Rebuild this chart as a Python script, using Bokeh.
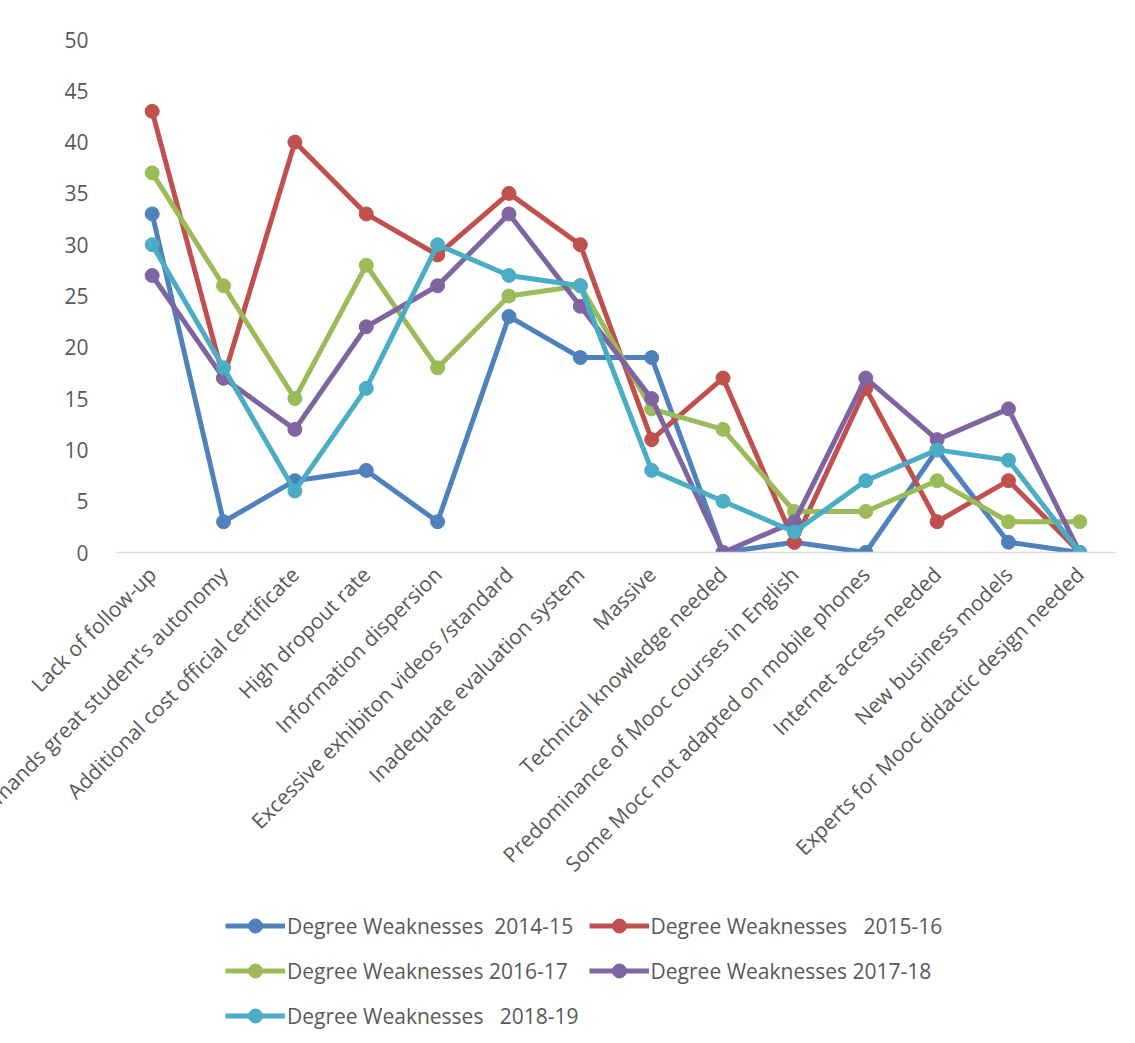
from bokeh.plotting import figure
from bokeh.models import FactorRange, Range1d, Legend, LegendItem, SingleIntervalTicker
from bokeh.layouts import column
from bokeh.embed import file_html
from bokeh.resources import INLINE
import math

categories = [
    "Lack of follow-up",
    "Demands great student's autonomy",
    "Additional cost official certificate",
    "High dropout rate",
    "Information dispersion",
    "Excessive exhibiton videos /standard",
    "Inadequate evaluation system",
    "Massive",
    "Technical knowledge needed",
    "Predominance of Mooc courses in English",
    "Some Mocc not adapted on mobile phones",
    "Internet access needed",
    "New business models",
    "Experts for Mooc didactic design needed",
]

s2014_15 = [33, 3, 7, 8, 3, 23, 19, 19, 0, 1, 0, 10, 1, 0]
s2015_16 = [43, 17, 40, 33, 29, 35, 30, 11, 17, 1, 16, 3, 7, 0]
s2016_17 = [37, 26, 15, 28, 18, 25, 26, 14, 12, 4, 4, 7, 3, 3]
s2017_18 = [27, 17, 12, 22, 26, 33, 24, 15, 0, 3, 17, 11, 14, 0]
s2018_19 = [30, 18, 6, 16, 30, 27, 26, 8, 5, 2, 7, 10, 9, 0]

series_names = [
    "Degree Weaknesses  2014-15",
    "Degree Weaknesses   2015-16",
    "Degree Weaknesses 2016-17",
    "Degree Weaknesses 2017-18",
    "Degree Weaknesses   2018-19",
]
series_values = [s2014_15, s2015_16, s2016_17, s2017_18, s2018_19]
colors = ["#4F81BD", "#C0504D", "#9BBB59", "#8064A2", "#4BACC6"]

FONT = "Open Sans"
TXT = "#595959"
W = 1127

p = figure(
    width=W, height=905,
    x_range=FactorRange(*categories, range_padding=0),
    y_range=Range1d(0, 50),
    output_backend="svg", toolbar_location=None,
    min_border_left=116, min_border_right=12,
    min_border_top=39, min_border_bottom=353,
)
p.x_range.range_padding = 0
p.outline_line_color = None
p.xgrid.grid_line_color = None
p.ygrid.grid_line_color = None

p.yaxis.ticker = SingleIntervalTicker(interval=5)
p.yaxis.axis_line_color = None
p.yaxis.major_tick_line_color = None
p.yaxis.minor_tick_line_color = None
p.yaxis.major_label_standoff = 22
p.yaxis.major_label_text_font = FONT
p.yaxis.major_label_text_font_size = "21px"
p.yaxis.major_label_text_color = TXT

p.xaxis.axis_line_color = "#D9D9D9"
p.xaxis.axis_line_width = 1.5
p.xaxis.major_tick_line_color = None
p.xaxis.minor_tick_line_color = None
p.xaxis.major_label_orientation = math.pi / 4
p.xaxis.major_label_standoff = 12
p.xaxis.major_label_text_font = FONT
p.xaxis.major_label_text_font_size = "21px"
p.xaxis.major_label_text_color = TXT

for name, vals, col in zip(series_names, series_values, colors):
    p.line(categories, vals, line_color=col, line_width=5)
    p.scatter(categories, vals, size=14, fill_color=col, line_color=col)

# legend in its own strip below the chart (frames are aligned with the chart)
lf = figure(
    width=W, height=130, x_range=Range1d(0, 1), y_range=Range1d(0, 1),
    output_backend="svg", toolbar_location=None,
    min_border=0, min_border_left=0, min_border_right=0,
    min_border_top=0, min_border_bottom=0,
)
lf.axis.visible = False
lf.grid.visible = False
lf.outline_line_color = None

nan = float("nan")
items = []
for name, col in zip(series_names, colors):
    lr = lf.line([nan, nan], [nan, nan], line_color=col, line_width=5)
    sr = lf.scatter([nan], [nan], size=14, fill_color=col, line_color=col)
    items.append(LegendItem(label=name, renderers=[lr, sr]))

legend = Legend(
    items=items, orientation="horizontal", ncols=2,
    location=(109, 2),
    label_text_font=FONT, label_text_font_size="21px", label_text_color=TXT,
    glyph_width=60, glyph_height=35, label_standoff=2, spacing=10,
    label_height=33, padding=0, margin=0,
    border_line_color=None, background_fill_alpha=0,
)
lf.add_layout(legend, "center")

layout = column(p, lf, spacing=0)
open("out.html", "w").write(file_html(layout, INLINE))
